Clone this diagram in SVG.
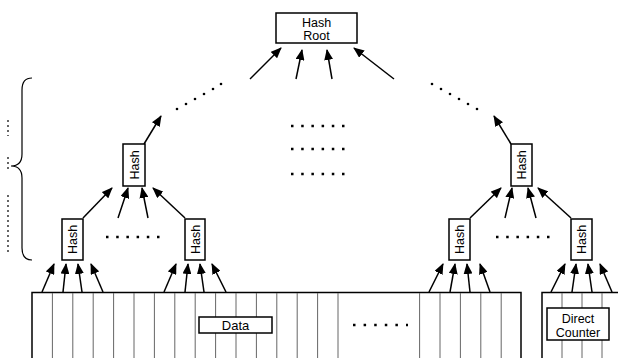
<svg xmlns="http://www.w3.org/2000/svg" width="618" height="358" viewBox="0 0 618 358">
<style>
.box{fill:#fff;stroke:#000;stroke-width:1.5}
.t{font-family:"Liberation Sans",Arial,sans-serif;font-size:12.5px;fill:#000;text-anchor:middle}
.c line{stroke:#000;stroke-width:1.5;marker-end:url(#ah)}
.cell{stroke:#666;stroke-width:1}
.dots{stroke:#000;stroke-width:2.5;stroke-dasharray:2.5 7.7;fill:none}
.vd{stroke:#000;stroke-width:1.2;stroke-dasharray:2 3;fill:none}
</style>
<defs>
<marker id="ah" markerUnits="userSpaceOnUse" markerWidth="11" markerHeight="9" refX="10" refY="4.5" orient="auto">
<path d="M0,0 L11,4.5 L0,9 z" fill="#000"/>
</marker>
</defs>
<rect width="618" height="358" fill="#fff"/>

<g id="brace">
<path d="M32,78 Q22,78 22,90 L22,154 Q22,166 11,166 Q22,166 22,178 L22,248 Q22,260 32,260" fill="none" stroke="#000" stroke-width="1.2"/>
<line class="vd" x1="8" y1="120" x2="8" y2="136"/>
<line class="vd" x1="8" y1="157" x2="8" y2="171"/>
<line class="vd" x1="8" y1="195" x2="8" y2="252"/>
</g>

<g id="data-block">
<rect x="32" y="292.5" width="489" height="80" fill="#fff" stroke="#000" stroke-width="1.5"/>
<g class="cell">
<line x1="52.4" y1="293" x2="52.4" y2="358"/>
<line x1="72.8" y1="293" x2="72.8" y2="358"/>
<line x1="93.2" y1="293" x2="93.2" y2="358"/>
<line x1="113.6" y1="293" x2="113.6" y2="358"/>
<line x1="134" y1="293" x2="134" y2="358"/>
<line x1="154.4" y1="293" x2="154.4" y2="358"/>
<line x1="174.8" y1="293" x2="174.8" y2="358"/>
<line x1="195.2" y1="293" x2="195.2" y2="358"/>
<line x1="215.6" y1="293" x2="215.6" y2="358"/>
<line x1="236" y1="293" x2="236" y2="358"/>
<line x1="256.4" y1="293" x2="256.4" y2="358"/>
<line x1="276.8" y1="293" x2="276.8" y2="358"/>
<line x1="297.2" y1="293" x2="297.2" y2="358"/>
<line x1="317.6" y1="293" x2="317.6" y2="358"/>
<line x1="338" y1="293" x2="338" y2="358"/>
<line x1="419.6" y1="293" x2="419.6" y2="358"/>
<line x1="440" y1="293" x2="440" y2="358"/>
<line x1="460.4" y1="293" x2="460.4" y2="358"/>
<line x1="480.8" y1="293" x2="480.8" y2="358"/>
<line x1="501.2" y1="293" x2="501.2" y2="358"/>
</g>
<line class="dots" x1="353" y1="325" x2="408" y2="325" style="stroke-dasharray:2.5 8.1"/>
</g>

<g id="data-label">
<rect class="box" x="199" y="317" width="73" height="16"/>
<text class="t" x="235.5" y="329.5" style="font-size:13px">Data</text>
</g>

<g id="counter-block">
<rect x="542" y="292.5" width="90" height="80" fill="#fff" stroke="#000" stroke-width="1.5"/>
<g class="cell">
<line x1="562" y1="293" x2="562" y2="358"/>
<line x1="582" y1="293" x2="582" y2="358"/>
<line x1="602" y1="293" x2="602" y2="358"/>
</g>
</g>

<g id="direct-counter">
<rect class="box" x="547" y="308" width="62" height="32"/>
<text class="t" x="578" y="322.5">Direct</text>
<text class="t" x="578" y="336.5">Counter</text>
</g>

<g id="hash-root">
<rect class="box" x="276" y="13" width="81" height="30"/>
<text class="t" x="316.5" y="27">Hash</text>
<text class="t" x="316.5" y="39.5">Root</text>
</g>

<g id="hash-l2-left">
<rect class="box" x="123" y="144" width="22" height="42"/>
<text class="t" transform="translate(138.5,165) rotate(-90)">Hash</text>
</g>
<g id="hash-l2-right">
<rect class="box" x="511" y="144" width="21" height="42"/>
<text class="t" transform="translate(526,165) rotate(-90)">Hash</text>
</g>
<g id="hash-l1-a">
<rect class="box" x="62" y="219" width="21" height="41"/>
<text class="t" transform="translate(77,239.5) rotate(-90)">Hash</text>
</g>
<g id="hash-l1-b">
<rect class="box" x="185" y="219" width="20" height="41"/>
<text class="t" transform="translate(199.5,239.5) rotate(-90)">Hash</text>
</g>
<g id="hash-l1-c">
<rect class="box" x="449" y="219" width="21" height="41"/>
<text class="t" transform="translate(464,239.5) rotate(-90)">Hash</text>
</g>
<g id="hash-l1-d">
<rect class="box" x="571" y="219" width="21" height="41"/>
<text class="t" transform="translate(586,239.5) rotate(-90)">Hash</text>
</g>

<g id="ellipses">
<line class="dots" x1="291" y1="126" x2="344.5" y2="126"/>
<line class="dots" x1="291" y1="149" x2="344.5" y2="149"/>
<line class="dots" x1="291" y1="174" x2="344.5" y2="174"/>
<line class="dots" x1="106" y1="237" x2="159.5" y2="237"/>
<line class="dots" x1="496" y1="237" x2="549.5" y2="237"/>
<g fill="#000">
<circle cx="177" cy="109" r="1.3"/><circle cx="186" cy="104" r="1.3"/><circle cx="195" cy="99" r="1.3"/>
<circle cx="204" cy="94" r="1.3"/><circle cx="213" cy="89" r="1.3"/><circle cx="221" cy="84" r="1.3"/>
<circle cx="432" cy="84" r="1.3"/><circle cx="441" cy="89" r="1.3"/><circle cx="450" cy="94" r="1.3"/>
<circle cx="459" cy="99" r="1.3"/><circle cx="468" cy="104" r="1.3"/><circle cx="477" cy="109" r="1.3"/>
</g>
</g>

<g id="connectors" class="c">
<line x1="250" y1="79" x2="281" y2="48"/>
<line x1="296" y1="79" x2="302" y2="50"/>
<line x1="332" y1="79" x2="327" y2="50"/>
<line x1="394" y1="79" x2="354" y2="48"/>
<line x1="144" y1="144" x2="161" y2="116"/>
<line x1="511" y1="144" x2="494" y2="116"/>
<line x1="83" y1="218" x2="112" y2="188"/>
<line x1="118" y1="218" x2="128" y2="188"/>
<line x1="148" y1="218" x2="142" y2="188"/>
<line x1="185" y1="218" x2="153" y2="188"/>
<line x1="470" y1="218" x2="501" y2="188"/>
<line x1="505" y1="218" x2="512" y2="188"/>
<line x1="536" y1="218" x2="528" y2="188"/>
<line x1="571" y1="218" x2="538" y2="188"/>
<line x1="42" y1="292" x2="54" y2="264"/>
<line x1="63" y1="292" x2="66" y2="264"/>
<line x1="82" y1="292" x2="78" y2="264"/>
<line x1="103" y1="292" x2="91" y2="264"/>
<line x1="164" y1="292" x2="176" y2="264"/>
<line x1="185" y1="292" x2="188" y2="264"/>
<line x1="204" y1="292" x2="200" y2="264"/>
<line x1="226" y1="292" x2="212" y2="264"/>
<line x1="429" y1="292" x2="443" y2="264"/>
<line x1="450" y1="292" x2="455" y2="264"/>
<line x1="470" y1="292" x2="467" y2="264"/>
<line x1="490" y1="292" x2="480" y2="264"/>
<line x1="551" y1="292" x2="565" y2="264"/>
<line x1="572" y1="292" x2="576" y2="264"/>
<line x1="592" y1="292" x2="588" y2="264"/>
<line x1="612" y1="292" x2="600" y2="264"/>
</g>
</svg>
